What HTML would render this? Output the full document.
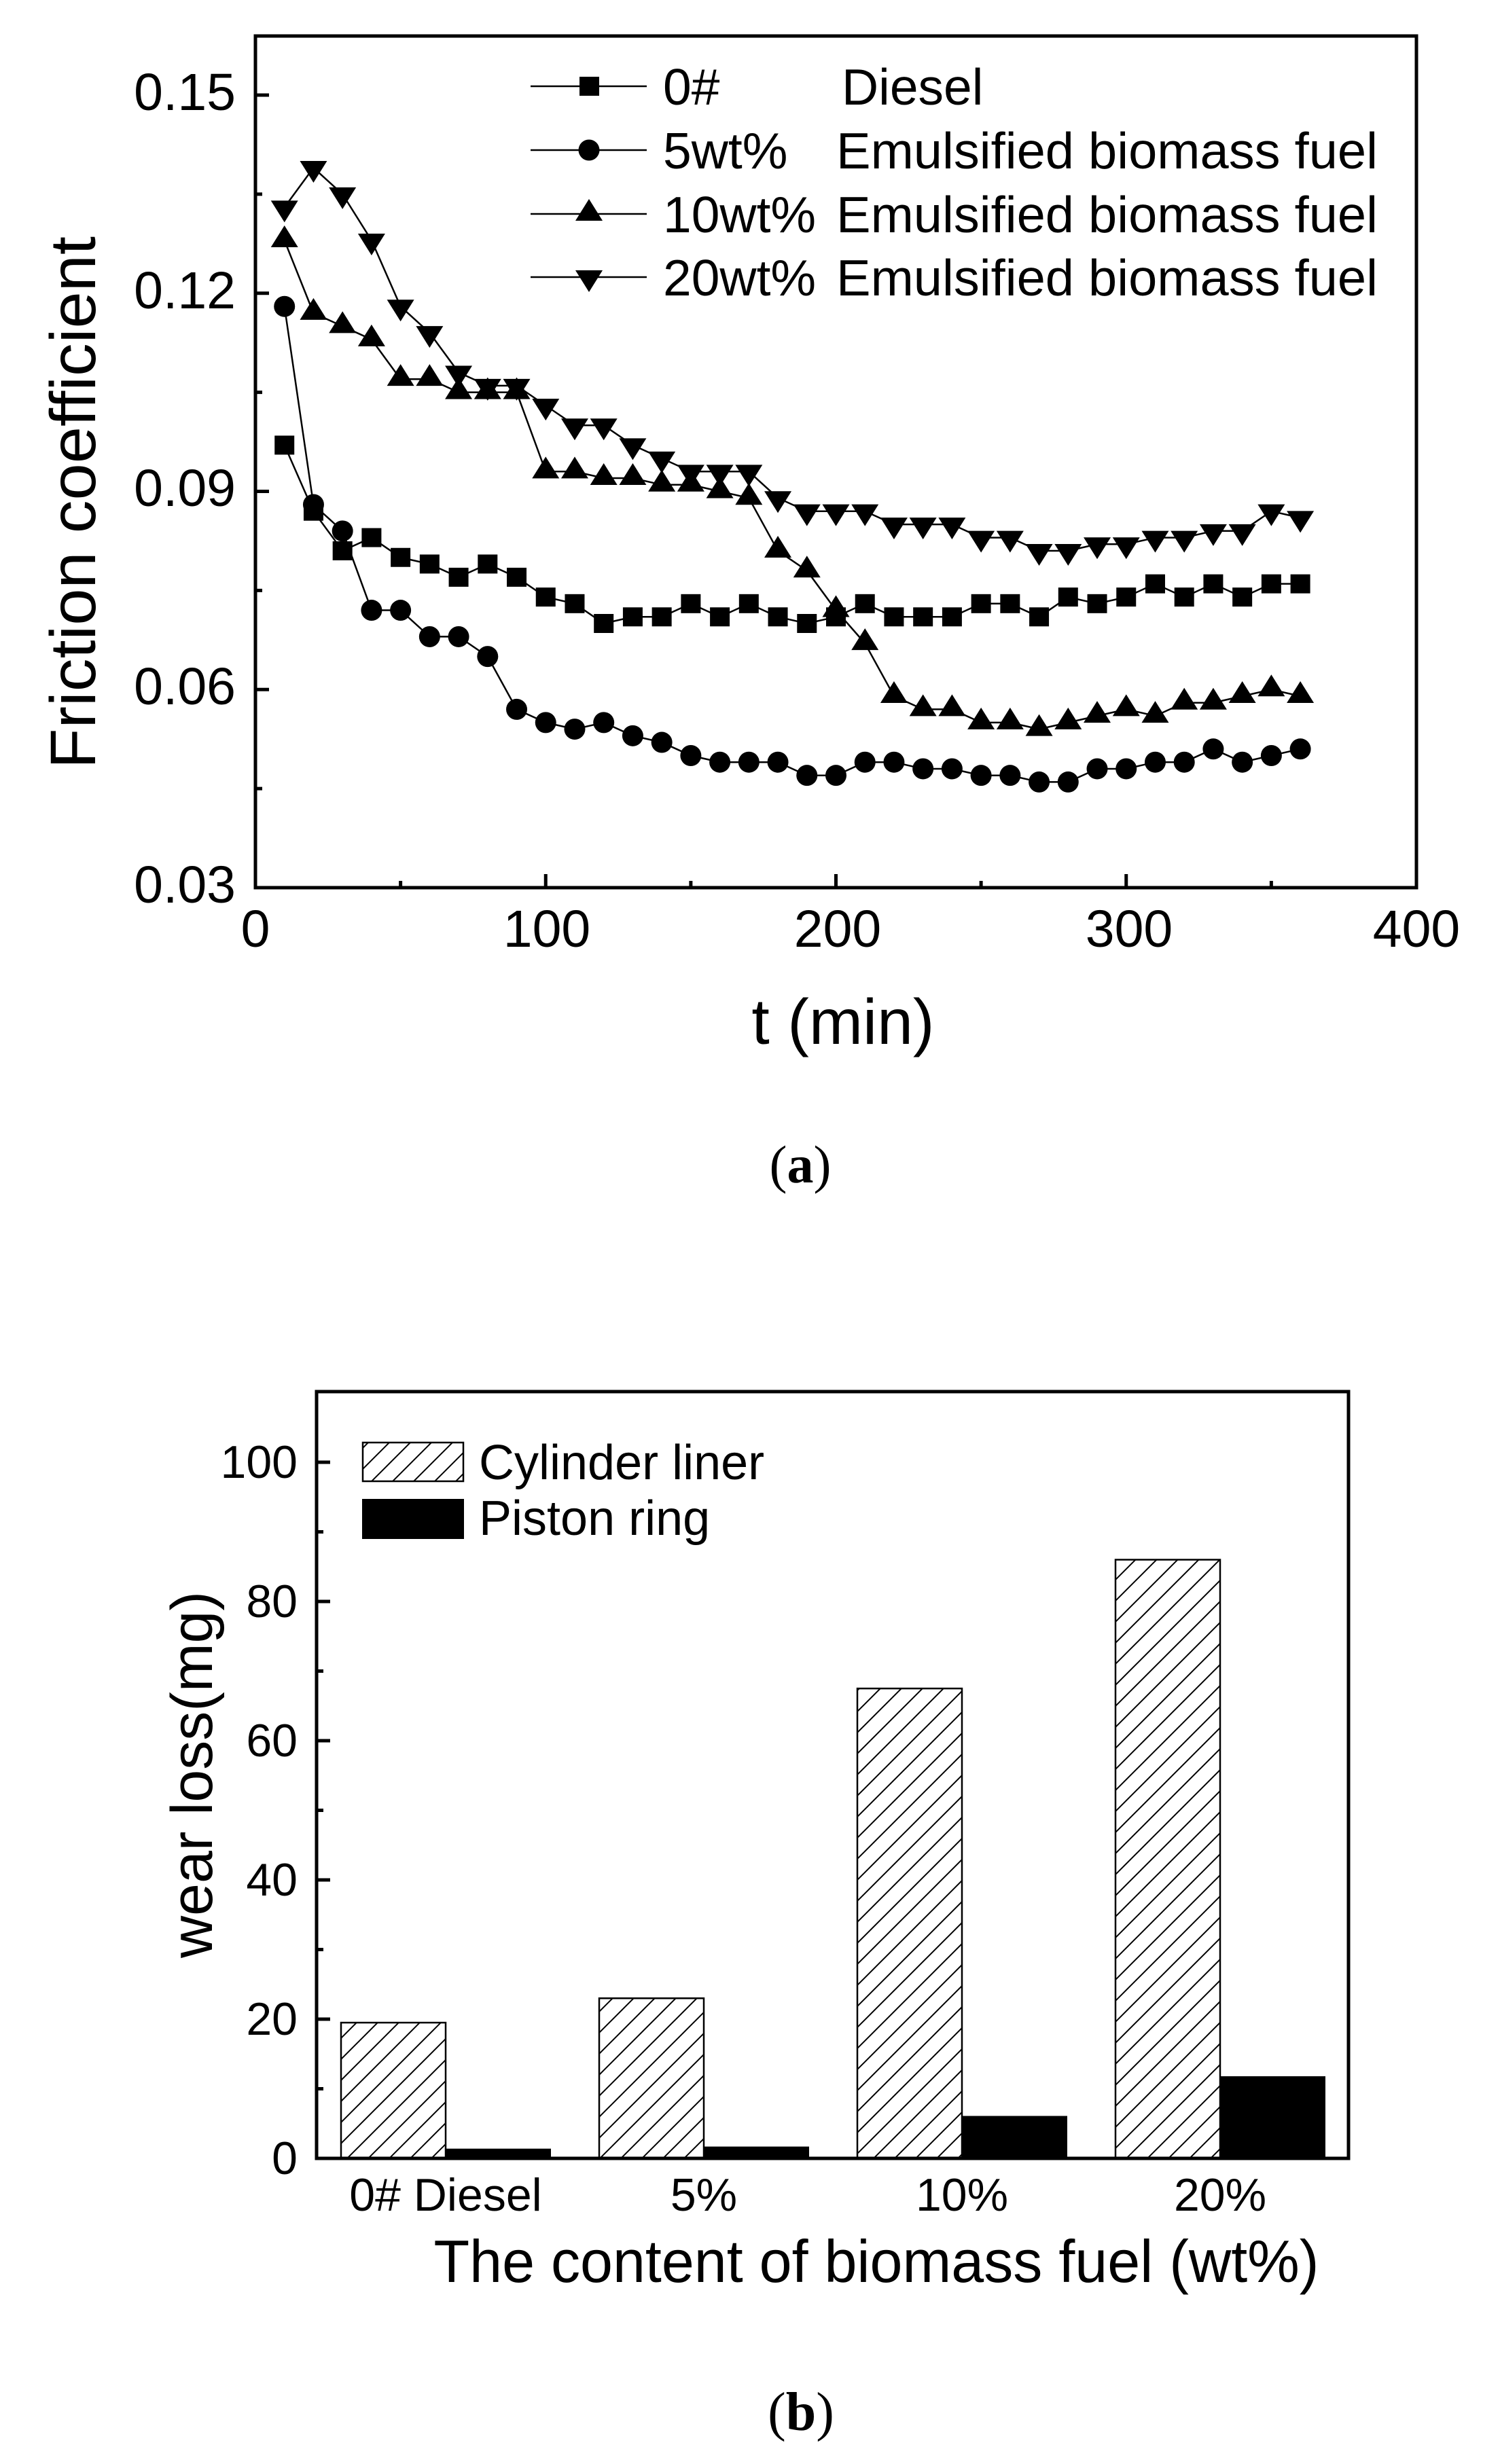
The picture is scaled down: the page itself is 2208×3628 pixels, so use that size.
<!DOCTYPE html>
<html><head><meta charset="utf-8">
<style>
html,body{margin:0;padding:0;background:#fff;}
svg{display:block;}
text{font-family:"Liberation Sans",Arial,sans-serif;fill:#000;}
.serif{font-family:"Liberation Serif","Times New Roman",serif;}
</style></head>
<body>
<svg id="s" width="2208" height="3628" viewBox="0 0 2208 3628" xmlns="http://www.w3.org/2000/svg">
<defs>
<pattern id="hatch" patternUnits="userSpaceOnUse" width="31" height="31">
<line x1="-2" y1="33" x2="33" y2="-2" stroke="#000" stroke-width="2"/>
<line x1="-10" y1="10" x2="10" y2="-10" stroke="#000" stroke-width="2"/>
<line x1="21" y1="41" x2="41" y2="21" stroke="#000" stroke-width="2"/>
</pattern>
</defs>
<rect width="2208" height="3628" fill="#fff"/>

<!-- ===== Chart A ===== -->
<g id="ga"></g>
<rect x="376" y="53" width="1709" height="1254" fill="none" stroke="#000" stroke-width="5"/>
<g font-size="77" text-anchor="end">
<text x="347" y="1329">0.03</text>
<text x="347" y="1037">0.06</text>
<text x="347" y="745">0.09</text>
<text x="347" y="454">0.12</text>
<text x="347" y="162">0.15</text>
</g>
<g font-size="77" text-anchor="middle">
<text x="376" y="1394">0</text>
<text x="805" y="1394">100</text>
<text x="1233" y="1394">200</text>
<text x="1662" y="1394">300</text>
<text x="2085" y="1394">400</text>
</g>
<text x="1241" y="1537" font-size="95" text-anchor="middle">t (min)</text>
<text transform="translate(140,740) rotate(-90)" font-size="95" text-anchor="middle" textLength="784" lengthAdjust="spacingAndGlyphs">Friction coefficient</text>
<text class="serif" x="1178" y="1741" font-size="78" text-anchor="middle">(<tspan font-weight="bold">a</tspan>)</text>

<!-- legend A -->
<g stroke="#000" stroke-width="2.5">
<line x1="781" y1="127" x2="952" y2="127"/>
<line x1="781" y1="221" x2="952" y2="221"/>
<line x1="781" y1="315" x2="952" y2="315"/>
<line x1="781" y1="408" x2="952" y2="408"/>
</g>
<rect x="853" y="113" width="29" height="28" fill="#000"/>
<circle cx="867" cy="221" r="15.5" fill="#000"/>
<polygon points="867,293 887,325 847,325" fill="#000"/>
<polygon points="867,430 887,398 847,398" fill="#000"/>
<g font-size="75">
<text x="976" y="154">0#</text><text x="1239" y="154">Diesel</text>
<text x="976" y="248">5wt%</text><text x="1231" y="248" textLength="797" lengthAdjust="spacingAndGlyphs">Emulsified biomass fuel</text>
<text x="976" y="342">10wt%</text><text x="1231" y="342" textLength="797" lengthAdjust="spacingAndGlyphs">Emulsified biomass fuel</text>
<text x="976" y="435">20wt%</text><text x="1231" y="435" textLength="797" lengthAdjust="spacingAndGlyphs">Emulsified biomass fuel</text>
</g>

<!-- ===== Chart B ===== -->
<g id="gb"></g>
<rect x="466" y="2049" width="1519" height="1129" fill="none" stroke="#000" stroke-width="5"/>
<g font-size="68" text-anchor="end">
<text x="438" y="3201">0</text>
<text x="438" y="2996">20</text>
<text x="438" y="2791">40</text>
<text x="438" y="2586">60</text>
<text x="438" y="2381">80</text>
<text x="438" y="2176">100</text>
</g>
<g font-size="68" text-anchor="middle">
<text x="656" y="3255">0# Diesel</text>
<text x="1036" y="3255">5%</text>
<text x="1416" y="3255">10%</text>
<text x="1796" y="3255">20%</text>
</g>
<text x="1290" y="3360" font-size="88" text-anchor="middle" textLength="1303" lengthAdjust="spacingAndGlyphs">The content of biomass fuel (wt%)</text>
<text transform="translate(312,2613) rotate(-90)" font-size="86" text-anchor="middle">wear loss(mg)</text>
<text class="serif" x="1179" y="3578" font-size="80" text-anchor="middle">(<tspan font-weight="bold">b</tspan>)</text>
<rect x="534" y="2124" width="148" height="57" fill="url(#hatch)" stroke="#000" stroke-width="2.5"/>
<rect x="533" y="2207" width="150" height="59" fill="#000"/>
<g font-size="72">
<text x="705" y="2178">Cylinder liner</text>
<text x="705" y="2260">Piston ring</text>
</g>
</svg>
<script>
(function(){
var NS="http://www.w3.org/2000/svg";
function el(p,n,a){var e=document.createElementNS(NS,n);for(var k in a)e.setAttribute(k,a[k]);p.appendChild(e);return e;}
var ga=document.getElementById('ga');
function X(t){return 376+t*4.2725;}
function Y(v){return 1307-(v-0.03)/0.03*291.75;}
for(var t=0;t<=400;t+=50){var L=(t%100==0)?20:10;el(ga,'line',{x1:X(t),y1:1307,x2:X(t),y2:1307-L,stroke:'#000','stroke-width':5});}
for(var k=0;k<=8;k++){var v=0.03+k*0.015;var L2=(k%2==0)?20:10;el(ga,'line',{x1:376,y1:Y(v),x2:376+L2,y2:Y(v),stroke:'#000','stroke-width':5});}
var d0=[0.097,0.087,0.081,0.083,0.080,0.079,0.077,0.079,0.077,0.074,0.073,0.070,0.071,0.071,0.073,0.071,0.073,0.071,0.070,0.071,0.073,0.071,0.071,0.071,0.073,0.073,0.071,0.074,0.073,0.074,0.076,0.074,0.076,0.074,0.076,0.076];
var d5=[0.118,0.088,0.084,0.072,0.072,0.068,0.068,0.065,0.057,0.055,0.054,0.055,0.053,0.052,0.050,0.049,0.049,0.049,0.047,0.047,0.049,0.049,0.048,0.048,0.047,0.047,0.046,0.046,0.048,0.048,0.049,0.049,0.051,0.049,0.050,0.051];
var d10=[0.128,0.117,0.115,0.113,0.107,0.107,0.105,0.105,0.105,0.093,0.093,0.092,0.092,0.091,0.091,0.090,0.089,0.081,0.078,0.072,0.067,0.059,0.057,0.057,0.055,0.055,0.054,0.055,0.056,0.057,0.056,0.058,0.058,0.059,0.060,0.059];
var d20=[0.133,0.139,0.135,0.128,0.118,0.114,0.108,0.106,0.106,0.103,0.100,0.100,0.097,0.095,0.093,0.093,0.093,0.089,0.087,0.087,0.087,0.085,0.085,0.085,0.083,0.083,0.081,0.081,0.082,0.082,0.083,0.083,0.084,0.084,0.087,0.086];
var sets=[[d0,'sq'],[d5,'ci'],[d10,'up'],[d20,'dn']];
sets.forEach(function(s){
 var pts=s[0].map(function(v,i){return X((i+1)*10).toFixed(1)+','+Y(v).toFixed(1);}).join(' ');
 el(ga,'polyline',{points:pts,fill:'none',stroke:'#000','stroke-width':2.5});
});
sets.forEach(function(s){
 s[0].forEach(function(v,i){var x=X((i+1)*10),y=Y(v);
  if(s[1]=='sq')el(ga,'rect',{x:x-14.5,y:y-14,width:29,height:28,fill:'#000'});
  else if(s[1]=='ci')el(ga,'circle',{cx:x,cy:y,r:15.5,fill:'#000'});
  else if(s[1]=='up')el(ga,'polygon',{points:x+','+(y-22)+' '+(x+20)+','+(y+10)+' '+(x-20)+','+(y+10),fill:'#000'});
  else el(ga,'polygon',{points:x+','+(y+22)+' '+(x+20)+','+(y-10)+' '+(x-20)+','+(y-10),fill:'#000'});
 });
});
var gb=document.getElementById('gb');
function YB(v){return 3178-v*10.25;}
for(var w=10;w<=100;w+=10){var Lb=(w%20==0)?20:10;el(gb,'line',{x1:466,y1:YB(w),x2:466+Lb,y2:YB(w),stroke:'#000','stroke-width':5});}
var cyl=[19.5,23,67.5,86],pis=[1.3,1.6,6,11.7];
for(var i=0;i<4;i++){var c=656+i*380;
 el(gb,'rect',{x:c-154,y:YB(cyl[i]),width:154,height:cyl[i]*10.25,fill:'url(#hatch)',stroke:'#000','stroke-width':2.5});
 el(gb,'rect',{x:c,y:YB(pis[i]),width:154,height:pis[i]*10.25,fill:'#000',stroke:'#000','stroke-width':2});
}
})();
</script>
</body></html>
